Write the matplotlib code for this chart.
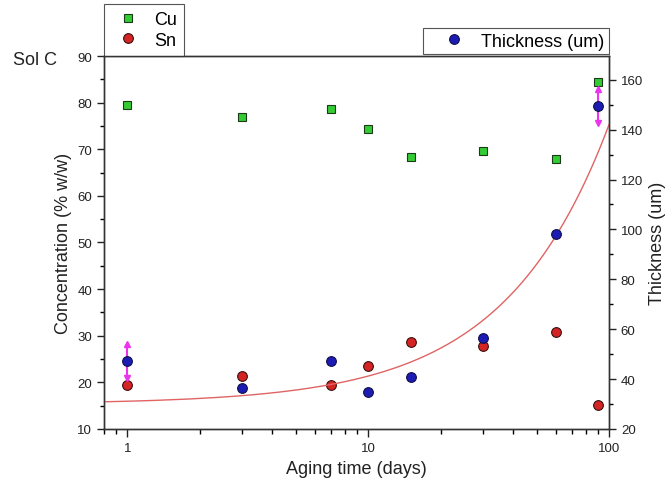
import matplotlib
matplotlib.use("Agg")
import matplotlib.pyplot as plt
import numpy as np

plt.rcParams['font.family'] = ['Liberation Sans', 'DejaVu Sans']

# aging time (days)
days = [1, 3, 7, 10, 15, 30, 60, 90]

# concentration (% w/w)
cu = [79.5, 77.0, 78.7, 74.4, 68.3, 69.7, 68.0, 84.4]
sn = [19.5, 21.4, 19.4, 23.6, 28.7, 27.7, 30.8, 15.2]

# thickness (um) and its error
thickness = [47.2, 36.6, 47.4, 34.9, 40.9, 56.6, 98.0, 149.3]
thickness_err = [6.8, 0, 0, 0, 0, 0, 0, 6.8]

# fitted line for thickness (linear in days)
fit_intercept = 30.0
fit_slope = 1.12


fig = plt.figure(figsize=(6.68, 4.89), dpi=100)
ax = fig.add_axes([0.1557, 0.1207, 0.756, 0.7627])
ax2 = ax.twinx()

ax.set_xscale('log')
ax.set_xlim(0.8, 100)
ax.set_ylim(10, 90)
ax2.set_ylim(20, 169.5)

l_cu, = ax.plot(days, cu, 's', color='#33cc33', markeredgecolor='#1a3a1a',
                markeredgewidth=0.8, markersize=6.3, label='Cu')
l_sn, = ax.plot(days, sn, 'o', color='#d42424', markeredgecolor='#3a1010',
                markeredgewidth=0.8, markersize=7, label='Sn')

x_fit = np.linspace(0.8, 100, 400)
ax2.plot(x_fit, fit_intercept + fit_slope * x_fit, color='#e06464', lw=1.0)

d = np.array(days, dtype=float)
t = np.array(thickness)
e = np.array(thickness_err)
m = e > 0
ax2.errorbar(d[m], t[m], yerr=e[m], fmt='none', ecolor='#ee33ee', elinewidth=1.5)
ax2.plot(d[m], t[m] + e[m], '^', color='#ee33ee', markersize=5)
ax2.plot(d[m], t[m] - e[m], 'v', color='#ee33ee', markersize=5)
l_th, = ax2.plot(days, thickness, 'o', color='#1c1cb4', markeredgecolor='#10104a',
                 markeredgewidth=0.8, markersize=7, label='Thickness (um)')

ax.set_xticks([1, 10, 100])
ax.set_xticklabels(['1', '10', '100'])
ax.set_yticks(np.arange(10, 91, 10))
ax.set_yticks(np.arange(15, 90, 10), minor=True)
ax2.set_yticks(np.arange(20, 161, 20))
ax2.set_yticks(np.arange(30, 170, 20), minor=True)

for a in (ax, ax2):
    a.tick_params(which='major', length=5, width=1, labelsize=9.5, colors='#222222')
    a.tick_params(which='minor', length=3, width=1)
    for s in a.spines.values():
        s.set_linewidth(1.0)
        s.set_color('#333333')
ax.tick_params(axis='x', which='major', length=6)
ax.tick_params(axis='x', which='minor', length=3.5)

ax.set_xlabel('Aging time (days)', fontsize=13, color='#222222')
ax.set_ylabel('Concentration (% w/w)', fontsize=13, color='#222222')
ax2.set_ylabel('Thickness (um)', fontsize=13, color='#222222')

leg1 = ax.legend(handles=[l_cu, l_sn], loc='lower left', bbox_to_anchor=(0, 1.0),
                 borderaxespad=0, fancybox=False, edgecolor='#555555', fontsize=13,
                 handlelength=1.87, handletextpad=0.51, borderpad=0.4,
                 labelspacing=0.21, framealpha=1)
leg1.get_frame().set_linewidth(0.8)
leg2 = ax2.legend(handles=[l_th], loc='lower right', bbox_to_anchor=(1, 1.005),
                  borderaxespad=0, fancybox=False, edgecolor='#555555', fontsize=13,
                  handlelength=2.94, handletextpad=0.05, borderpad=0.25, framealpha=1)
leg2.get_frame().set_linewidth(0.8)

fig.text(0.052, 0.877, 'Sol C', fontsize=13, ha='center', va='center', color='#222222')

fig.savefig('out.png', dpi=100)
